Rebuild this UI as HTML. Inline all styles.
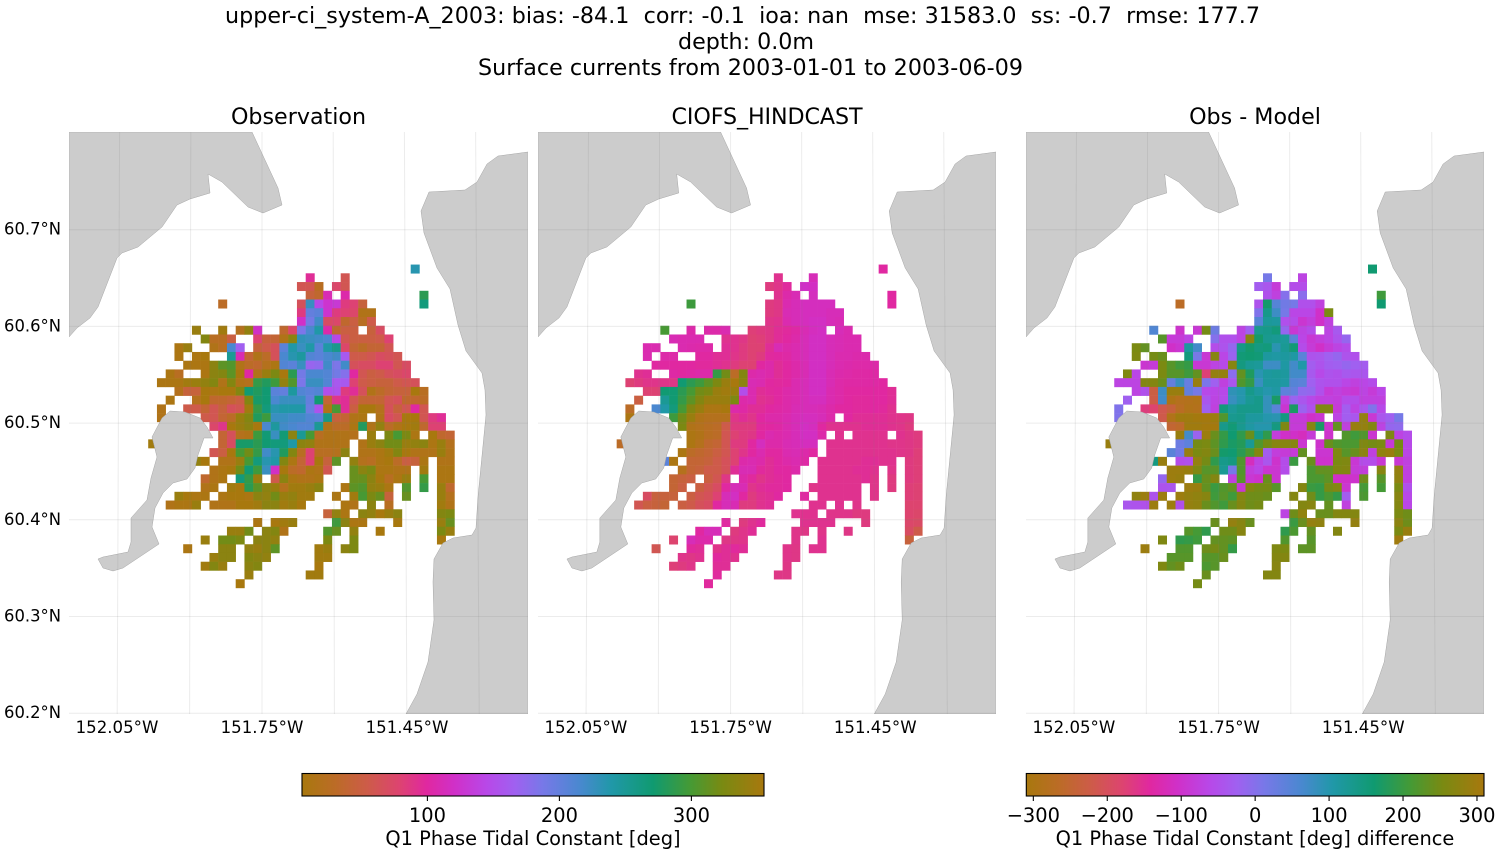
<!DOCTYPE html>
<html lang="en">
<head>
<meta charset="utf-8">
<title>Q1 Phase Tidal Constant comparison</title>
<style>
html,body{margin:0;padding:0;background:#fff;}
svg{display:block;}
text{font-family:"DejaVu Sans","Liberation Sans",sans-serif;fill:#000;white-space:pre;}
</style>
</head>
<body>
<svg id="figure" xmlns="http://www.w3.org/2000/svg" width="1500" height="850" viewBox="0 0 1500 850">
<defs>
<clipPath id="clip-obs"><rect x="69" y="132" width="459" height="582"/></clipPath>
<clipPath id="clip-model"><rect x="538" y="132" width="458" height="582"/></clipPath>
<clipPath id="clip-diff"><rect x="1026" y="132" width="458" height="582"/></clipPath>
<linearGradient id="phase-gradient" x1="0" y1="0" x2="1" y2="0"></linearGradient>
</defs>
<rect x="0" y="0" width="1500" height="850" fill="#fff"/>
<text x="742.5" y="23" font-size="22.2" text-anchor="middle" textLength="1035">upper-ci_system-A_2003: bias: -84.1  corr: -0.1  ioa: nan  mse: 31583.0  ss: -0.7  rmse: 177.7</text>
<text x="746" y="49" font-size="22.2" text-anchor="middle">depth: 0.0m</text>
<text x="750.5" y="75" font-size="22.2" text-anchor="middle" textLength="545">Surface currents from 2003-01-01 to 2003-06-09</text>
<text x="298.5" y="124" font-size="22.2" text-anchor="middle">Observation</text>
<text x="767" y="124" font-size="22.2" text-anchor="middle" textLength="191">CIOFS_HINDCAST</text>
<text x="1255" y="124" font-size="22.2" text-anchor="middle">Obs - Model</text>
<g id="panels"></g>
<g id="axis-labels"></g>
<g id="colorbars"></g>
<text x="533" y="845" font-size="19.4" text-anchor="middle">Q1 Phase Tidal Constant [deg]</text>
<text x="1255" y="845" font-size="19.4" text-anchor="middle">Q1 Phase Tidal Constant [deg] difference</text>
</svg>
<script>
// ---------- tick labels ----------
const latTicks = [60.7, 60.6, 60.5, 60.4, 60.3, 60.2];
const lonTicks = [152.05, 151.75, 151.45];
const lonGrid = [152.05, 151.9, 151.75, 151.6, 151.45, 151.3];
const phaseTicks = [100, 200, 300];
const diffTicks = [-300, -200, -100, 0, 100, 200, 300];

// ---------- colormap (cyclic phase) ----------
const cmapPositions = [0, 0.07, 0.14, 0.21, 0.27, 0.33, 0.40, 0.46, 0.52, 0.60, 0.67, 0.76, 0.84, 0.91, 1];
const cmapColors = ['#a8780e', '#bb6c26', '#cd5c48', '#dd4470', '#e028a0', '#d030c8', '#b848e8', '#a060f0', '#7878e8', '#4a88d0', '#2098a8', '#109a70', '#459a35', '#7a8a12', '#a8780e'];

// ---------- gridded values: one inner array per grid row (top to bottom) ----------
const cellColumns = [
[30],
[18,22],
[17,18,19,21,22],
[18,19,20,22,31],
[8,17,18,19,20,21,22,23,24,31],
[17,18,19,20,21,22,23,24,25],
[17,18,19,20,21,22,23,24,25],
[5,8,10,11,12,15,16,17,18,19,20,21,22,23,25,26],
[6,7,8,9,12,13,14,15,16,17,18,19,20,21,22,23,24,25,26,27],
[3,4,7,8,9,10,12,13,14,15,16,17,18,19,20,21,22,23,24,25,26,27],
[3,5,6,9,10,11,12,13,14,15,16,17,18,19,20,21,22,23,24,25,26,27,28],
[4,5,6,7,8,9,10,11,12,13,14,15,16,17,18,19,20,21,22,23,24,25,26,27,28,29],
[2,3,6,7,8,9,10,11,12,13,14,15,16,17,18,19,20,21,22,23,24,25,26,27,28,29],
[1,2,3,4,5,6,7,8,9,10,11,12,13,14,15,16,17,18,19,20,21,22,23,24,25,26,27,28,29,30],
[3,4,5,6,7,8,9,10,11,12,13,14,15,16,17,18,19,20,21,22,23,24,25,26,27,28,29,30,31],
[2,5,6,7,8,9,10,11,12,13,14,15,16,17,18,19,20,21,22,23,24,25,26,27,28,29,30,31],
[1,4,5,6,7,8,9,10,11,12,13,14,15,16,17,18,19,20,21,22,23,24,25,26,27,28,29,30,31],
[1,6,7,8,9,10,11,12,13,14,15,16,17,18,19,20,21,22,23,24,26,27,28,29,30,31,32,33],
[7,8,9,10,11,12,13,14,15,16,17,18,19,20,21,22,23,24,25,26,27,28,29,30,31,32,33],
[8,9,10,11,12,13,14,15,16,17,18,19,20,21,22,23,25,27,28,29,30,32,33,34],
[0,8,9,10,11,12,13,14,15,16,17,18,19,20,21,22,24,25,26,27,28,29,30,31,32,33,34],
[7,8,9,10,11,12,13,14,15,16,17,18,19,20,21,22,24,25,26,27,28,29,30,31,32,33,34],
[5,6,8,9,10,11,12,13,14,15,16,17,18,19,20,21,23,24,25,26,27,28,29,30,31,33,34],
[7,8,9,10,11,12,13,14,15,16,17,18,19,20,23,24,25,26,27,28,29,31,33,34],
[6,7,8,10,11,12,14,15,16,17,18,19,23,24,25,26,27,28,29,31,33,34],
[6,7,9,10,11,12,13,14,15,16,17,18,19,22,23,24,25,26,27,29,31,33,34],
[3,4,5,6,8,9,10,11,12,13,14,15,16,17,18,21,23,24,25,26,27,29,33,34],
[2,3,4,5,7,8,9,10,11,12,13,14,15,16,17,22,23,25,27,33,34],
[20,21,22,24,25,26,27,28,33,34],
[12,14,15,16,21,22,23,24,28,33,34],
[9,10,11,13,14,15,20,21,23,26,33,34],
[6,8,9,10,12,13,14,20,23,33],
[4,8,9,11,12,13,14,19,20,22,23],
[7,8,9,11,12,13,19,20],
[6,7,8,11,12,19],
[11,18,19],
[10]
];

const obsValues = [
[235],
[95,60],
[60,60,25,75,60],
[45,35,110,105,285],
[30,65,225,145,125,130,85,80,45,265],
[85,200,205,125,85,80,75,15,15],
[120,190,220,70,75,35,50,25,55],
[345,350,20,340,120,35,75,185,215,240,105,35,50,50,45,70],
[330,25,25,50,80,45,40,15,335,230,225,220,215,145,60,50,50,50,55,80],
[10,345,15,25,215,165,45,55,65,205,240,225,240,205,240,255,75,40,30,40,40,60],
[10,10,5,250,110,40,15,30,65,215,235,245,210,205,215,220,160,55,55,60,70,65,60],
[10,10,10,335,310,305,15,30,35,20,10,210,205,225,170,175,220,185,220,65,70,70,80,80,60,70],
[10,25,10,335,330,310,5,100,15,345,325,355,285,190,215,215,210,190,180,100,60,50,55,65,70,75],
[10,10,10,350,345,340,330,15,330,15,20,290,280,295,340,305,185,225,225,210,160,160,80,55,50,45,45,55,60,65],
[20,45,45,5,10,5,5,330,270,280,270,205,200,245,210,205,210,150,155,85,95,65,15,30,40,45,45,355,25],
[10,20,355,35,35,40,50,330,275,270,215,225,225,225,200,270,40,90,95,60,40,40,40,60,65,35,35,30],
[15,55,55,40,60,45,65,60,350,290,265,235,240,240,240,195,155,15,300,95,50,5,355,20,65,45,60,100,60],
[15,55,60,40,30,345,330,280,295,225,225,220,220,210,205,260,45,40,15,10,15,70,60,5,5,60,85,95],
[75,90,5,345,335,355,215,245,220,215,210,210,250,15,30,30,10,280,15,340,30,15,5,350,35,80,80],
[40,65,20,15,295,268,225,268,335,250,300,25,15,15,15,20,345,325,300,325,10,355,35,40],
[350,40,70,275,275,285,270,265,265,240,335,340,15,15,15,15,15,345,335,320,320,345,340,335,10,345,20],
[60,50,5,300,320,290,220,235,280,330,25,80,25,25,20,335,15,15,10,350,330,5,15,15,15,345,15],
[340,5,15,15,345,300,265,235,240,330,10,40,80,5,45,310,340,20,25,10,5,30,50,45,10,15,15],
[15,10,5,320,270,295,225,120,5,30,35,10,15,60,315,335,325,10,10,15,15,350,10,10],
[35,15,10,265,290,345,55,335,10,15,15,10,315,315,335,5,25,10,345,300,10,10],
[15,10,350,5,285,310,335,345,20,350,350,345,335,10,310,305,340,345,10,305,290,345,35],
[345,355,10,10,10,5,355,10,335,340,320,345,340,350,350,10,350,300,325,315,45,315,345,20],
[15,10,10,345,15,15,15,5,355,350,335,335,350,345,5,10,15,335,25,350,15],
[45,340,10,335,340,355,345,335,330,325],
[10,5,350,345,295,335,10,10,5,345,315],
[345,345,320,335,330,15,305,315,340,5,325,345],
[345,320,320,325,335,335,340,325,325,5],
[10,335,335,340,345,335,310,350,345,335,325],
[345,335,335,330,335,340,350,350],
[350,330,345,335,330,355],
[345,350,350],
[355]
];

const modelValues = [
[100],
[92,112],
[85,90,98,120,118],
[92,105,110,115,100],
[295,85,88,108,112,115,115,115,115,100],
[85,88,110,112,115,115,115,112,112],
[90,92,108,112,115,118,118,112,110],
[300,105,105,105,108,82,85,88,95,98,102,110,115,118,112,108],
[110,108,108,108,92,92,88,80,82,88,96,100,105,112,118,118,112,110,108,108],
[108,108,108,106,104,104,95,92,85,80,80,95,110,105,108,112,118,118,112,110,108,108],
[108,104,104,100,100,95,95,90,85,80,85,98,100,102,108,112,118,118,112,108,108,106,106],
[100,100,100,100,100,98,98,95,92,85,80,80,100,105,95,100,105,110,118,118,112,108,106,104,104,104],
[92,95,102,100,102,105,105,290,320,30,330,105,108,105,95,100,105,110,118,118,110,106,104,102,102,102],
[80,85,90,90,90,88,270,285,295,310,325,345,5,335,110,108,100,98,100,108,112,118,118,110,104,102,102,102,102,100],
[80,80,270,270,285,300,320,325,345,350,345,150,108,95,98,100,105,108,112,118,118,108,104,100,100,100,100,100,95],
[50,250,270,290,310,330,345,345,345,325,105,108,92,95,100,105,108,112,115,115,108,104,100,98,98,100,100,95],
[30,215,240,265,300,330,345,10,10,5,105,102,95,95,100,102,105,110,112,112,110,105,100,100,98,98,100,98,92],
[10,295,320,345,15,20,20,20,90,95,90,100,105,105,108,112,115,115,112,105,100,95,95,95,95,92,90,88],
[325,15,20,25,30,55,85,85,85,98,100,102,108,112,118,115,100,92,92,92,92,95,95,95,92,90,85],
[10,15,25,30,60,80,85,88,100,108,105,108,112,118,118,105,92,92,92,92,92,92,88,85],
[30,10,20,35,40,60,85,85,100,115,105,105,110,112,115,115,92,92,92,92,92,92,92,90,90,88,85],
[10,30,35,40,50,60,80,90,100,108,100,100,108,110,105,100,92,92,92,92,92,92,92,92,90,88,82],
[205,10,40,40,45,55,65,80,105,108,105,95,100,105,108,102,92,92,92,92,92,95,95,92,92,85,82],
[20,40,45,55,55,65,95,110,110,98,95,100,100,105,92,92,92,92,95,95,92,90,85,82],
[40,45,50,50,60,88,105,98,90,95,98,100,92,92,92,92,92,95,90,85,85,82],
[40,50,50,60,70,100,112,110,90,95,98,98,100,90,92,92,92,92,92,90,85,82,80],
[70,45,45,45,50,60,65,80,112,118,100,85,92,95,100,100,92,92,92,92,92,90,82,80],
[60,50,45,40,50,55,65,70,100,112,110,85,85,92,95,92,92,92,90,78,78],
[92,92,92,90,90,90,85,85,78,75],
[100,85,92,98,92,92,92,92,85,75,72],
[100,112,112,85,90,95,90,88,90,88,70,55],
[78,112,105,105,88,88,90,90,92,45],
[60,98,95,90,95,98,95,90,88,92,92],
[90,88,92,98,95,92,90,88],
[82,85,90,95,95,88],
[98,88,88],
[98]
];

const diffValues = [
[160],
[15,-70],
[-30,-40,-85,-55,-55],
[-50,-75,0,-5,205],
[-265,-45,165,50,20,15,-50,-50,-75,160],
[5,135,75,15,-65,-65,-65,-105,255],
[50,120,115,-50,-55,-95,-80,-105,-75],
[55,-100,-90,250,25,-70,-25,130,135,150,-15,-90,-70,-55,-70,-35],
[225,-85,-85,-70,0,-50,-50,-70,270,165,130,125,120,45,-65,-90,-80,-70,-45,-15],
[255,235,-105,-95,115,70,-55,-45,-15,140,165,145,150,95,125,155,-55,-85,-105,-85,-70,-55],
[260,250,240,150,15,-90,270,-65,-20,155,160,155,115,110,115,110,45,-45,-40,-25,-15,-45,-50],
[-95,-85,255,225,205,195,-90,-90,-70,-60,270,145,125,120,75,75,110,70,105,-30,-45,-30,-25,-15,-25,-30],
[260,-65,255,225,225,205,235,-175,285,285,-5,235,175,95,115,120,115,70,70,-35,-60,-45,-50,-35,-40,-40],
[-70,-70,-70,265,265,240,35,80,30,290,10,-25,-75,-40,220,195,80,115,115,110,50,45,-25,-45,-50,-50,-65,-75,-65,-55],
[-70,-50,-230,75,290,290,35,15,-60,-65,-60,90,100,135,115,100,110,40,35,-10,-15,-50,-85,-75,-85,-90,-70,-85,-65],
[-25,-225,70,-295,-280,-285,-290,-40,-70,-55,80,100,125,135,85,170,-75,-20,-40,-60,-75,-75,-80,-55,-55,-75,-75,-75],
[5,-170,-180,-215,-240,-270,-290,-285,-25,-75,150,120,135,135,135,85,45,-95,170,-20,-50,260,260,-85,-30,-70,-40,5,-60],
[5,-220,-290,300,300,305,305,295,220,130,135,115,115,100,95,145,-85,-85,-105,-95,-70,-30,-40,285,-90,-40,-25,15],
[-250,-260,300,300,305,305,135,155,130,110,100,100,145,260,-85,-85,270,170,-100,235,-75,290,285,265,-70,-15,-10],
[290,70,-20,295,240,195,160,190,240,135,190,-80,-105,-105,-115,-85,-100,220,205,220,-95,260,-70,-55],
[290,25,40,250,255,230,190,170,180,125,220,250,270,270,270,-95,-100,240,220,215,215,260,250,255,-85,250,-60],
[45,20,290,255,265,240,165,160,185,215,265,-30,-80,-85,-85,235,-95,-95,260,225,240,275,-75,280,290,255,-65],
[145,290,-55,-50,285,250,190,135,145,220,-115,-70,-40,-100,-55,200,240,-100,-100,255,260,-90,-55,-55,-90,-90,-75],
[295,295,290,260,225,225,125,15,220,-80,-65,-95,-95,-55,215,235,235,260,265,-85,-80,270,285,-75],
[-15,295,290,195,240,265,-75,225,-90,-100,240,-95,215,215,230,-105,-105,-100,245,225,280,-75],
[-45,-40,295,290,235,200,220,235,-90,265,250,250,225,265,200,195,250,265,-95,210,210,255,-50],
[280,295,-45,295,295,285,280,270,205,225,205,265,245,245,240,265,245,195,215,195,-30,215,270,-60],
[-40,-45,-50,295,295,-50,285,280,240,220,205,240,265,245,250,265,270,235,-75,265,-65],
[-70,245,280,240,240,265,265,265,255,245],
[240,285,270,240,200,240,285,280,285,275,245],
[225,210,190,245,245,270,190,215,235,265,255,290],
[260,190,195,205,235,235,230,220,225,300],
[295,220,220,245,250,235,195,260,255,230,230],
[225,225,225,225,225,240,265,265],
[260,235,245,215,225,270],
[240,265,265],
[250]
];

// ---------- geometry / scales ----------
const SVG_NS = 'http://www.w3.org/2000/svg';
const AX_TOP = 132, AX_BOTTOM = 714;
const PHASE_MIN = 5, PHASE_MAX = 355;
const DIFF_MIN = -309.5, DIFF_MAX = 309.5;
const ROW_ORIGIN = 264.56, ROW_STEP = 8.74;

const LAND_NORTH = '69,132 252,132 278,188 282,205 263,213 248,207 222,182 208,174 210,193 190,199 177,205 162,227 138,247 122,253 117,258 98,307 90,318 77,328 69,337';
const LAND_EAST = '528,152 498,156 487,164 477,182 465,190 429,192 421,211 424,233 437,268 450,289 458,325 466,351 482,373 485,390 486,415 478,497 476,528 472,535 453,538 443,543 434,559 433,582 434,620 428,662 417,694 406,714 528,714';
const LAND_ISLAND = '170,411 185,412 200,418 207,427 213,438 204,438 198,455 195,468 187,479 173,483 163,493 155,508 152,527 159,544 123,568 113,571 103,568 98,559 103,557 128,552 131,542 131,518 147,500 151,478 157,457 152,437 162,418';

const panels = [
  {key:'observation', left:69, width:459, clip:'clip-obs', colOrigin:148.2, colStep:8.75, values:obsValues, min:PHASE_MIN, max:PHASE_MAX},
  {key:'model', left:538, width:458, clip:'clip-model', colOrigin:616.67, colStep:8.733, values:modelValues, min:PHASE_MIN, max:PHASE_MAX},
  {key:'difference', left:1026, width:458, clip:'clip-diff', colOrigin:1105.5, colStep:8.75, values:diffValues, min:DIFF_MIN, max:DIFF_MAX}
];

function yLat(lat){ return 519.8 - (lat - 60.4) * 967; }
function xLon(panel, lon, y){
  const f = (y - AX_TOP) / (AX_BOTTOM - AX_TOP);
  const pxPerDeg = 474.7 + f * 8;
  return panel.left + (193 + (151.75 - lon) * pxPerDeg) * panel.width / 459;
}
function xCell(panel, col){ return panel.colOrigin + panel.colStep * col; }
function yCell(row){ return ROW_ORIGIN + ROW_STEP * row; }

function hexToRgb(h){ return [parseInt(h.slice(1,3),16), parseInt(h.slice(3,5),16), parseInt(h.slice(5,7),16)]; }
function cmap(t){
  t = Math.max(0, Math.min(1, t));
  for (let i = 1; i < cmapPositions.length; i++) {
    if (t <= cmapPositions[i]) {
      const a = cmapPositions[i-1], b = cmapPositions[i];
      const u = (t - a) / (b - a);
      const c0 = hexToRgb(cmapColors[i-1]), c1 = hexToRgb(cmapColors[i]);
      return 'rgb(' + c0.map(function(v, k){ return Math.round(v + (c1[k] - v) * u); }).join(',') + ')';
    }
  }
  return cmapColors[cmapColors.length - 1];
}

const panelsRoot = document.getElementById('panels');
const labelsRoot = document.getElementById('axis-labels');
const barsRoot = document.getElementById('colorbars');

function textEl(parent, x, y, size, anchor, content){
  const t = document.createElementNS(SVG_NS, 'text');
  t.setAttribute('x', x);
  t.setAttribute('y', y);
  t.setAttribute('font-size', size);
  t.setAttribute('text-anchor', anchor);
  t.textContent = content;
  parent.appendChild(t);
  return t;
}

// ---------- map panels ----------
panels.forEach(function(panel){
  const g = document.createElementNS(SVG_NS, 'g');
  
  
  g.setAttribute('clip-path', 'url(#' + panel.clip + ')');
  panelsRoot.appendChild(g);

  cellColumns.forEach(function(cols, row){
    cols.forEach(function(col, i){
      const v = panel.values[row][i];
      if (v === undefined || v === null) return;
      const r = document.createElementNS(SVG_NS, 'rect');
      
      
      r.setAttribute('x', xCell(panel, col).toFixed(2));
      r.setAttribute('y', yCell(row).toFixed(2));
      r.setAttribute('width', (panel.colStep + 0.25).toFixed(2));
      r.setAttribute('height', (ROW_STEP + 0.25).toFixed(2));
      r.setAttribute('fill', cmap((v - panel.min) / (panel.max - panel.min)));
      g.appendChild(r);
    });
  });

  const land = document.createElementNS(SVG_NS, 'g');
  
  
  land.setAttribute('transform', 'translate(' + panel.left + ' 0) scale(' + (panel.width / 459) + ' 1) translate(-69 0)');
  g.appendChild(land);
  [['north-land', LAND_NORTH], ['east-land', LAND_EAST], ['island-land', LAND_ISLAND]].forEach(function(item){
    const p = document.createElementNS(SVG_NS, 'polygon');
    
    
    p.setAttribute('points', item[1]);
    p.setAttribute('fill', '#cccccc');
    p.setAttribute('stroke', '#a6a6a6');
    p.setAttribute('stroke-width', '0.5');
    land.appendChild(p);
  });

  latTicks.forEach(function(lat){
    const l = document.createElementNS(SVG_NS, 'line');
    
    
    l.setAttribute('x1', panel.left);
    l.setAttribute('x2', panel.left + panel.width);
    l.setAttribute('y1', yLat(lat));
    l.setAttribute('y2', yLat(lat));
    l.setAttribute('stroke', '#808080');
    l.setAttribute('stroke-opacity', '0.15');
    l.setAttribute('stroke-width', '1');
    g.appendChild(l);
  });
  lonGrid.forEach(function(lon){
    const l = document.createElementNS(SVG_NS, 'line');
    
    
    l.setAttribute('x1', xLon(panel, lon, AX_TOP));
    l.setAttribute('x2', xLon(panel, lon, AX_BOTTOM));
    l.setAttribute('y1', AX_TOP);
    l.setAttribute('y2', AX_BOTTOM);
    l.setAttribute('stroke', '#808080');
    l.setAttribute('stroke-opacity', '0.15');
    l.setAttribute('stroke-width', '1');
    g.appendChild(l);
  });

  lonTicks.forEach(function(lon){
    const t = textEl(labelsRoot, panel.left + (193 + (151.75 - lon) * 483.3) * panel.width / 459, 733, 16.6, 'middle', lon.toFixed(2) + '°W');
    
    
  });
});

latTicks.forEach(function(lat){
  const t = textEl(labelsRoot, 61, yLat(lat) + 5, 16.4, 'end', lat.toFixed(1) + '°N');
  
  
});

// ---------- colorbars ----------
const gradient = document.getElementById('phase-gradient');
cmapPositions.forEach(function(pos, i){
  const s = document.createElementNS(SVG_NS, 'stop');
  s.setAttribute('offset', pos);
  s.setAttribute('stop-color', cmapColors[i]);
  gradient.appendChild(s);
});

function drawColorbar(name, x0, x1, vMin, vMax, ticks){
  const scale = function(v){ return x0 + (v - vMin) / (vMax - vMin) * (x1 - x0); };
  const bar = document.createElementNS(SVG_NS, 'rect');
  
  
  bar.setAttribute('x', x0);
  bar.setAttribute('y', 773.5);
  bar.setAttribute('width', x1 - x0);
  bar.setAttribute('height', 22.5);
  bar.setAttribute('fill', 'url(#phase-gradient)');
  bar.setAttribute('stroke', '#000');
  bar.setAttribute('stroke-width', '1.1');
  barsRoot.appendChild(bar);
  ticks.forEach(function(v){
    const tick = document.createElementNS(SVG_NS, 'line');
    
    
    tick.setAttribute('x1', scale(v));
    tick.setAttribute('x2', scale(v));
    tick.setAttribute('y1', 796);
    tick.setAttribute('y2', 801);
    tick.setAttribute('stroke', '#000');
    tick.setAttribute('stroke-width', '1.1');
    barsRoot.appendChild(tick);
    const label = textEl(barsRoot, scale(v), 822, 19.4, 'middle', String(v).replace('-', '\u2212'));
    
    
  });
}
drawColorbar('phase', 302, 764, PHASE_MIN, PHASE_MAX, phaseTicks);
drawColorbar('difference', 1026.3, 1484, DIFF_MIN, DIFF_MAX, diffTicks);
</script>
</body>
</html>
